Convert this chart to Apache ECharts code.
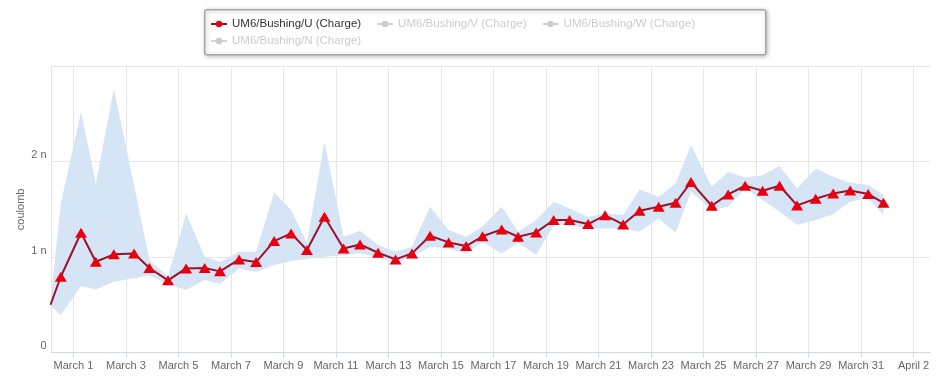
<!DOCTYPE html>
<html><head><meta charset="utf-8">
<script src="https://cdn.jsdelivr.net/npm/echarts@6/dist/echarts.min.js"></script>
<style>html,body{margin:0;padding:0;background:#fff}#c{width:940px;height:386px}</style>
</head><body><div id="c"></div>
<script>
const seriesNames = ['UM6/Bushing/U (Charge)', 'UM6/Bushing/V (Charge)', 'UM6/Bushing/W (Charge)', 'UM6/Bushing/N (Charge)'];
const times = [
 '2024-02-29 03:00','2024-02-29 12:30','2024-03-01 07:00','2024-03-01 20:30','2024-03-02 13:00',
 '2024-03-03 07:30','2024-03-03 21:30','2024-03-04 14:30','2024-03-05 07:00','2024-03-06 00:00',
 '2024-03-06 14:00','2024-03-07 07:30','2024-03-07 23:00','2024-03-08 15:30','2024-03-09 07:00',
 '2024-03-09 21:30','2024-03-10 13:30','2024-03-11 07:00','2024-03-11 22:00','2024-03-12 14:30',
 '2024-03-13 06:30','2024-03-13 21:30','2024-03-14 14:00','2024-03-15 07:00','2024-03-15 23:00',
 '2024-03-16 14:00','2024-03-17 07:30','2024-03-17 22:30','2024-03-18 15:00','2024-03-19 07:00',
 '2024-03-19 21:30','2024-03-20 14:30','2024-03-21 06:00','2024-03-21 22:30','2024-03-22 13:30',
 '2024-03-23 07:00','2024-03-23 22:30','2024-03-24 12:30','2024-03-25 07:30','2024-03-25 22:30',
 '2024-03-26 14:00','2024-03-27 06:00','2024-03-27 21:30','2024-03-28 13:30','2024-03-29 06:30',
 '2024-03-29 22:30','2024-03-30 14:00','2024-03-31 06:30','2024-03-31 20:30'
];
// values in nC
const valuesU = [
 0.50,0.795,1.255,0.952,1.029,1.039,0.886,0.757,0.882,0.886,
 0.851,0.976,0.948,1.168,1.248,1.074,1.423,1.091,1.133,1.046,
 0.976,1.039,1.224,1.154,1.116,1.218,1.29,1.213,1.259,1.388,
 1.388,1.346,1.437,1.342,1.485,1.527,1.569,1.785,1.538,1.656,
 1.747,1.695,1.747,1.541,1.611,1.667,1.698,1.66,1.569
];
const upperU = [
 0.52,1.562,2.521,1.771,2.765,1.75,0.97,0.80,1.457,1.004,
 0.95,1.056,1.056,1.674,1.492,1.15,2.207,1.213,1.276,1.126,
 1.056,1.109,1.527,1.283,1.213,1.32,1.527,1.266,1.388,1.579,
 1.51,1.423,1.457,1.44,1.708,1.632,1.771,2.172,1.736,1.893,
 1.834,1.858,1.953,1.719,1.928,1.841,1.778,1.754,1.649
];
const lowerU = [
 0.495,0.394,0.697,0.662,0.743,0.778,0.81,0.72,0.656,0.76,
 0.718,0.882,0.844,0.917,0.959,0.983,1.004,1.02,1.04,0.997,
 0.941,1.004,1.109,1.091,1.039,1.16,1.039,1.15,1.022,1.335,
 1.335,1.30,1.30,1.30,1.266,1.405,1.255,1.684,1.492,1.527,
 1.719,1.597,1.475,1.335,1.388,1.45,1.58,1.62,1.44
];
const tickDates = ['2024-03-01','2024-03-03','2024-03-05','2024-03-07','2024-03-09','2024-03-11','2024-03-13','2024-03-15','2024-03-17','2024-03-19','2024-03-21','2024-03-23','2024-03-25','2024-03-27','2024-03-29','2024-03-31','2024-04-02'];
const tickLabels = ['March 1','March 3','March 5','March 7','March 9','March 11','March 13','March 15','March 17','March 19','March 21','March 23','March 25','March 27','March 29','March 31','April 2'];
const yTickLabels = ['0','1 n','2 n',''];
const xMin = '2024-02-29 04:00';
const xMax = '2024-04-02 15:00';

function parse(s){ return new Date(s.length === 10 ? s + 'T00:00' : s.replace(' ', 'T')).getTime(); }
const tickVals = tickDates.map(parse);
const timeVals = times.map(parse);
const FONT = '"Liberation Sans", Arial, Helvetica, sans-serif';

const chart = echarts.init(document.getElementById('c'), null, {renderer: 'canvas'});
const legendCommon = {
  orient: 'horizontal', left: 210, padding: 0, itemWidth: 16, itemHeight: 8, itemGap: 15,
  textStyle: {fontSize: 11.5, color: '#333333', fontFamily: FONT},
  inactiveColor: '#cccccc',
  selected: {[seriesNames[1]]: false, [seriesNames[2]]: false, [seriesNames[3]]: false}
};

function renderBand(params, api) {
  if (params.dataIndex !== 0) return;
  const up = [], lo = [];
  for (let i = 0; i < timeVals.length; i++) {
    up.push(api.coord([timeVals[i], upperU[i]]));
    lo.push(api.coord([timeVals[i], lowerU[i]]));
  }
  const pts = up.concat(lo.reverse());
  const cs = params.coordSys;
  return {
    type: 'polygon',
    shape: {points: pts},
    style: {fill: '#d6e5f6'},
    silent: true,
    clipPath: {type: 'rect', shape: {x: cs.x, y: cs.y, width: cs.width, height: cs.height}}
  };
}

chart.setOption({
  animation: false,
  backgroundColor: '#ffffff',
  textStyle: {fontFamily: FONT},
  graphic: [{
    type: 'rect', left: 204, top: 9, z: 0, silent: true,
    shape: {width: 561, height: 45, r: 2},
    style: {fill: '#ffffff', stroke: '#a8a8a8', lineWidth: 1.5, shadowBlur: 4, shadowColor: 'rgba(0,0,0,0.25)', shadowOffsetX: 1, shadowOffsetY: 1}
  }],
  legend: [
    Object.assign({data: seriesNames.slice(0, 3), top: 18}, legendCommon),
    Object.assign({data: [seriesNames[3]], top: 35}, legendCommon)
  ],
  grid: {left: 51.5, right: 10, top: 66, bottom: 33.3, containLabel: false, outerBoundsMode: 'none'},
  xAxis: {
    type: 'value', min: parse(xMin), max: parse(xMax), scale: true,
    axisLine: {show: true, lineStyle: {color: '#ccd6eb', width: 1}},
    axisTick: {show: true, length: 5, customValues: tickVals, lineStyle: {color: '#ccd6eb'}},
    axisLabel: {
      customValues: tickVals, color: '#666666', fontSize: 11, margin: 8, fontFamily: FONT,
      formatter: function (v) { const i = tickVals.indexOf(v); return i >= 0 ? tickLabels[i] : ''; }
    },
    splitLine: {show: true, lineStyle: {color: '#e6e6e6', width: 1}}
  },
  yAxis: {
    type: 'value', min: 0, max: 3, interval: 1,
    name: 'coulomb', nameLocation: 'middle', nameGap: 25, nameRotate: 90, nameMoveOverlap: false,
    nameTextStyle: {color: '#666666', fontSize: 11, fontFamily: FONT},
    axisLine: {show: true, lineStyle: {color: '#e6e6e6'}},
    axisTick: {show: false},
    axisLabel: {
      color: '#666666', fontSize: 11, fontFamily: FONT, verticalAlign: 'bottom', lineHeight: 13, margin: 5,
      formatter: function (v) { return yTickLabels[Math.round(v)]; }
    },
    splitLine: {show: true, lineStyle: {color: '#e6e6e6', width: 1}}
  },
  series: [
    {
      name: 'range', type: 'custom', silent: true, z: 1,
      renderItem: renderBand,
      encode: {x: 0, y: 1},
      data: timeVals.map((t, i) => [t, lowerU[i], upperU[i]])
    },
    {
      name: seriesNames[0], type: 'line', symbol: 'circle', symbolSize: [12, 10], z: 3,
      itemStyle: {color: '#e8000e'},
      lineStyle: {color: '#97122a', width: 2},
      data: timeVals.map((t, i) => ({value: [t, valuesU[i]], symbol: 'triangle'}))
    },
    {name: seriesNames[1], type: 'line', symbol: 'circle', itemStyle: {color: '#7cb5ec'}, lineStyle: {color: '#7cb5ec'}, data: []},
    {name: seriesNames[2], type: 'line', symbol: 'circle', itemStyle: {color: '#434348'}, lineStyle: {color: '#434348'}, data: []},
    {name: seriesNames[3], type: 'line', symbol: 'circle', itemStyle: {color: '#90ed7d'}, lineStyle: {color: '#90ed7d'}, data: []}
  ]
});
</script>
</body></html>
